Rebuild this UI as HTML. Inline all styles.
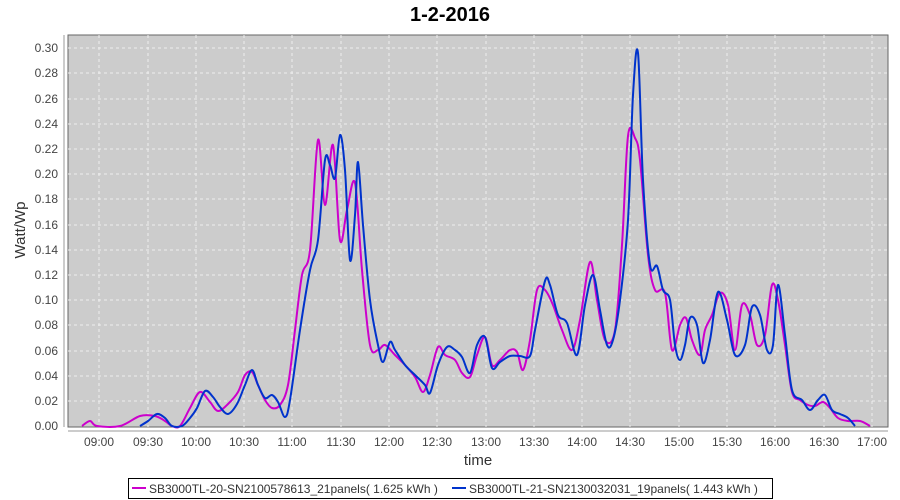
<!DOCTYPE html>
<html><head><meta charset="utf-8"><style>body{margin:0;background:#fff}svg{display:block;font-family:"Liberation Sans","DejaVu Sans",sans-serif}</style></head><body>
<svg id="s" width="900" height="500" xmlns="http://www.w3.org/2000/svg">
<text x="450" y="21" text-anchor="middle" font-size="20" font-weight="bold" fill="#000">1-2-2016</text>
<rect x="68" y="35" width="820" height="392" fill="#cccccc" stroke="#666" stroke-width="1"/>
<g stroke="#eee" stroke-dasharray="3,3" stroke-width="1">
<line x1="68" x2="888" y1="48" y2="48"/><line x1="68" x2="888" y1="73" y2="73"/><line x1="68" x2="888" y1="99" y2="99"/><line x1="68" x2="888" y1="124" y2="124"/><line x1="68" x2="888" y1="149" y2="149"/><line x1="68" x2="888" y1="174" y2="174"/><line x1="68" x2="888" y1="199" y2="199"/><line x1="68" x2="888" y1="225" y2="225"/><line x1="68" x2="888" y1="250" y2="250"/><line x1="68" x2="888" y1="275" y2="275"/><line x1="68" x2="888" y1="300" y2="300"/><line x1="68" x2="888" y1="325" y2="325"/><line x1="68" x2="888" y1="351" y2="351"/><line x1="68" x2="888" y1="376" y2="376"/><line x1="68" x2="888" y1="401" y2="401"/>
<line x1="99" x2="99" y1="35" y2="427"/><line x1="148" x2="148" y1="35" y2="427"/><line x1="196" x2="196" y1="35" y2="427"/><line x1="244" x2="244" y1="35" y2="427"/><line x1="292" x2="292" y1="35" y2="427"/><line x1="341" x2="341" y1="35" y2="427"/><line x1="389" x2="389" y1="35" y2="427"/><line x1="437" x2="437" y1="35" y2="427"/><line x1="486" x2="486" y1="35" y2="427"/><line x1="534" x2="534" y1="35" y2="427"/><line x1="582" x2="582" y1="35" y2="427"/><line x1="630" x2="630" y1="35" y2="427"/><line x1="679" x2="679" y1="35" y2="427"/><line x1="727" x2="727" y1="35" y2="427"/><line x1="775" x2="775" y1="35" y2="427"/><line x1="824" x2="824" y1="35" y2="427"/><line x1="872" x2="872" y1="35" y2="427"/>
</g>
<g stroke="#999" stroke-width="1">
<line x1="64" x2="64" y1="35" y2="427"/><line x1="68" x2="888" y1="431" y2="431"/>
</g>
<g font-size="12" fill="#444" text-anchor="end">
<text x="58" y="52">0.30</text><text x="58" y="77">0.28</text><text x="58" y="103">0.26</text><text x="58" y="128">0.24</text><text x="58" y="153">0.22</text><text x="58" y="178">0.20</text><text x="58" y="203">0.18</text><text x="58" y="229">0.16</text><text x="58" y="254">0.14</text><text x="58" y="279">0.12</text><text x="58" y="304">0.10</text><text x="58" y="329">0.08</text><text x="58" y="355">0.06</text><text x="58" y="380">0.04</text><text x="58" y="405">0.02</text><text x="58" y="430">0.00</text>
</g>
<g font-size="12" fill="#444" text-anchor="middle">
<text x="99" y="446">09:00</text><text x="148" y="446">09:30</text><text x="196" y="446">10:00</text><text x="244" y="446">10:30</text><text x="292" y="446">11:00</text><text x="341" y="446">11:30</text><text x="389" y="446">12:00</text><text x="437" y="446">12:30</text><text x="486" y="446">13:00</text><text x="534" y="446">13:30</text><text x="582" y="446">14:00</text><text x="630" y="446">14:30</text><text x="679" y="446">15:00</text><text x="727" y="446">15:30</text><text x="775" y="446">16:00</text><text x="824" y="446">16:30</text><text x="872" y="446">17:00</text>
</g>
<text x="478" y="465" text-anchor="middle" font-size="15" fill="#333">time</text>
<text transform="translate(25,230) rotate(-90)" text-anchor="middle" font-size="15" fill="#333">Watt/Wp</text>
<polyline class="sm" fill="none" stroke="#cc00cc" stroke-width="2" stroke-linejoin="round" points="82,426 90,421 97,426 120,426 140,416 155,416 165,421 172,426 180,426 190,408 200,392 210,402 218,411 228,404 238,392 245,375 252,372 258,385 265,400 272,408 280,405 288,385 295,330 302,275 310,250 318,140 325,205 333,145 340,240 347,210 355,183 362,270 370,345 378,350 385,345 395,355 405,365 415,377 423,392 430,375 438,347 445,355 455,360 462,373 470,377 477,355 485,337 492,365 500,360 510,350 517,352 523,370 530,340 537,290 545,290 553,305 562,330 572,350 580,320 590,262 597,300 605,340 615,330 622,245 628,136 635,138 640,160 648,255 655,290 665,293 672,350 680,325 686,318 692,340 700,355 705,330 712,315 720,293 728,305 735,350 742,305 750,315 757,345 765,335 772,285 778,300 785,345 792,392 800,400 808,405 815,406 823,402 830,408 838,418 848,421 860,421 870,426"/>
<polyline class="sm" fill="none" stroke="#0033cc" stroke-width="2" stroke-linejoin="round" points="140,426 148,421 157,414 165,418 172,426 182,426 190,418 197,408 205,391 213,397 220,407 228,414 237,404 245,385 252,370 258,385 265,398 272,395 278,402 285,417 290,400 300,330 310,270 318,240 325,160 330,165 335,178 340,135 345,170 350,260 355,215 358,162 363,225 370,300 378,345 383,362 390,342 395,350 405,365 415,375 425,385 430,393 438,365 447,347 455,350 462,357 470,373 477,345 485,337 492,368 500,362 510,356 520,356 530,356 535,330 545,281 550,285 558,315 567,323 577,355 585,305 593,275 600,310 607,345 613,340 620,300 628,220 633,95 638,53 643,180 650,265 657,266 663,290 670,300 675,345 680,360 685,345 690,318 697,325 703,363 710,340 718,292 727,320 735,355 745,345 752,307 760,315 767,350 773,345 778,285 785,335 792,390 802,400 810,410 818,400 825,395 832,410 840,414 848,418 855,426"/>
<rect x="128.5" y="478.5" width="644" height="20" fill="#fff" stroke="#000"/>
<line x1="132" x2="146" y1="488" y2="488" stroke="#cc00cc" stroke-width="2"/>
<text x="149" y="493" font-size="12" fill="#333">SB3000TL-20-SN2100578613_21panels( 1.625 kWh )</text>
<line x1="452" x2="466" y1="488" y2="488" stroke="#0033cc" stroke-width="2"/>
<text x="469" y="493" font-size="12" fill="#333">SB3000TL-21-SN2130032031_19panels( 1.443 kWh )</text>
</svg>
<script>
document.querySelectorAll('polyline.sm').forEach(function(pl){
var p=pl.getAttribute('points').trim().split(/\s+/).map(function(s){return s.split(',').map(Number)});
var d='M'+p[0][0]+','+p[0][1];
for(var i=0;i<p.length-1;i++){var a=p[i-1]||p[i],b=p[i],c=p[i+1],e=p[i+2]||c;
d+=' C'+(b[0]+(c[0]-a[0])/6).toFixed(1)+','+(b[1]+(c[1]-a[1])/6).toFixed(1)+' '+(c[0]-(e[0]-b[0])/6).toFixed(1)+','+(c[1]-(e[1]-b[1])/6).toFixed(1)+' '+c[0]+','+c[1];}
var path=document.createElementNS('http://www.w3.org/2000/svg','path');
path.setAttribute('d',d);path.setAttribute('fill','none');path.setAttribute('stroke',pl.getAttribute('stroke'));path.setAttribute('stroke-width','2');
pl.parentNode.replaceChild(path,pl);});
</script>
</body></html>
